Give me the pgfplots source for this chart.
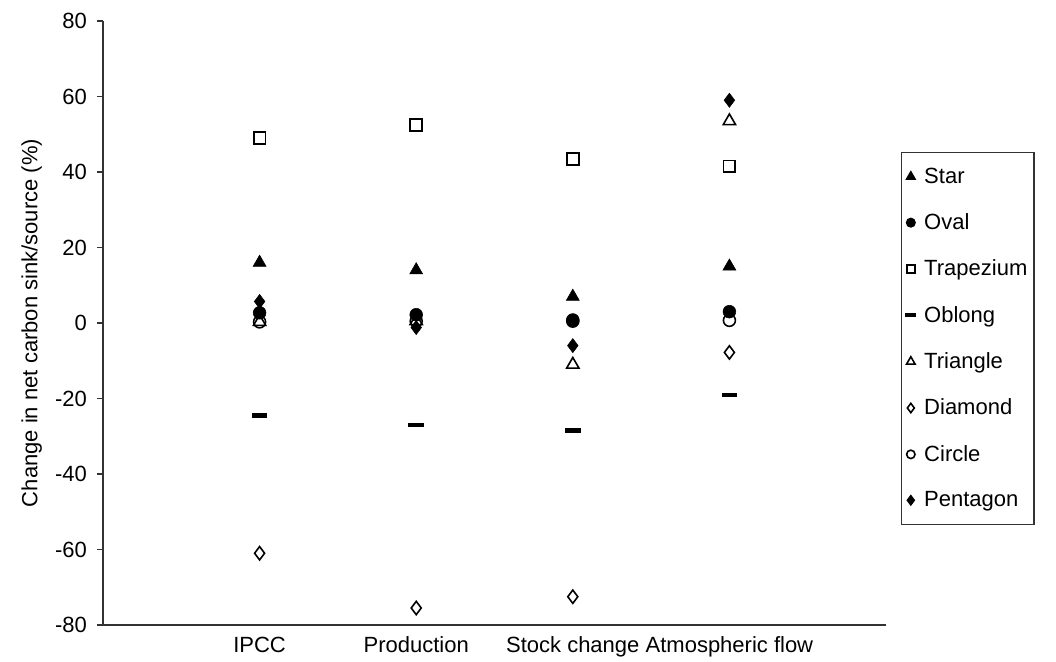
\documentclass[border=0pt]{standalone}
\usepackage{pgfplots}
\usepackage{pgfplotstable}
\pgfplotsset{compat=1.18}
\usetikzlibrary{calc}
\usepackage{fontspec}
\setmainfont{Liberation Sans}

% Change in net carbon sink/source (%) by accounting approach
\pgfplotstableread{
x Star Oval Trapezium Oblong Triangle Diamond Circle Pentagon
1 16   2.7  49    -24.5  0.3   -61    0.3   5.7
2 14   2.2  52.5  -27    0.5   -75.5  0.5   -1.2
3 7    0.8  43.5  -28.5  -11   -72.5  0.5   -6
4 15   3    41.5  -19    53.5  -7.8   0.7   59
}\datatable

\newcommand\chartfont{\fontsize{16.5}{18.5}\selectfont}

\begin{document}
\begin{tikzpicture}[x=0.75pt,y=0.75pt]
\begin{axis}[
  name=ax,
  scale only axis, width=587.25pt, height=453pt,
  xmin=0, xmax=5, ymin=-80, ymax=80,
  axis x line*=bottom, axis y line*=left,
  axis line style={black!80, line width=0.8pt},
  xtick={1,2,3,4},
  xticklabels={IPCC,Production,Stock change,Atmospheric flow},
  x tick style={draw=none},
  ytick={-80,-60,...,80},
  y tick style={black!80, line width=0.8pt},
  tick align=outside, major tick length=4.5pt,
  /pgf/number format/assume math mode=true,
  tick label style={font=\chartfont},
  xticklabel style={yshift=-1pt},
  yticklabel style={xshift=-4pt},
  ylabel={Change in net carbon sink/source (\%)},
  ylabel style={font=\chartfont, yshift=3pt},
  legend style={
    at={(1.019,0.783)}, anchor=north west,
    draw=black!80, line width=0.8pt,
    font=\chartfont,
    row sep=17.3pt, inner xsep=3pt, inner ysep=9.5pt,
    /tikz/every odd column/.append style={column sep=4pt},
  },
  legend cell align=left,
  legend image code/.code={%
    \draw[mark repeat=2,mark phase=2,#1,/tikz/every mark/.append style={scale=0.7}]
      plot coordinates {(0pt,0pt) (5pt,0pt) (10pt,0pt)};},
  clip=false,
]
\addplot[only marks, mark=triangle*, mark size=5.6pt, mark options={fill=black, draw=black}]
  table[x=x, y=Star]{\datatable};
\addlegendentry{Star}
\addplot[only marks, mark=*, mark size=4.8pt, mark options={fill=black, draw=black}]
  table[x=x, y=Oval]{\datatable};
\addlegendentry{Oval}
\addplot[only marks, mark=square, mark size=4.4pt, mark options={draw=black, fill=white, line width=1.3pt}]
  table[x=x, y=Trapezium]{\datatable};
\addlegendentry{Trapezium\hspace{28pt}}
\addplot[only marks, mark=-, mark size=5.8pt, mark options={draw=black, line width=3.2pt}]
  table[x=x, y=Oblong]{\datatable};
\addlegendentry{Oblong}
\addplot[only marks, mark=triangle, mark size=5.3pt, mark options={draw=black, fill=white, line width=1.2pt}]
  table[x=x, y=Triangle]{\datatable};
\addlegendentry{Triangle}
\addplot[only marks, mark=diamond, mark size=5pt, mark options={draw=black, fill=white, line width=1.2pt}]
  table[x=x, y=Diamond]{\datatable};
\addlegendentry{Diamond}
\addplot[only marks, mark=o, mark size=4.5pt, mark options={draw=black, fill=white, line width=1.2pt}]
  table[x=x, y=Circle]{\datatable};
\addlegendentry{Circle}
\addplot[only marks, mark=diamond*, mark size=5.3pt, mark options={draw=black, fill=black}]
  table[x=x, y=Pentagon]{\datatable};
\addlegendentry{Pentagon}
\end{axis}
% picture frame: the axis box starts 103 px from the left and 32 px from the bottom
\useasboundingbox ($(ax.south west)+(-103,-32)$) rectangle ++(1056,657);
\end{tikzpicture}
\end{document}
